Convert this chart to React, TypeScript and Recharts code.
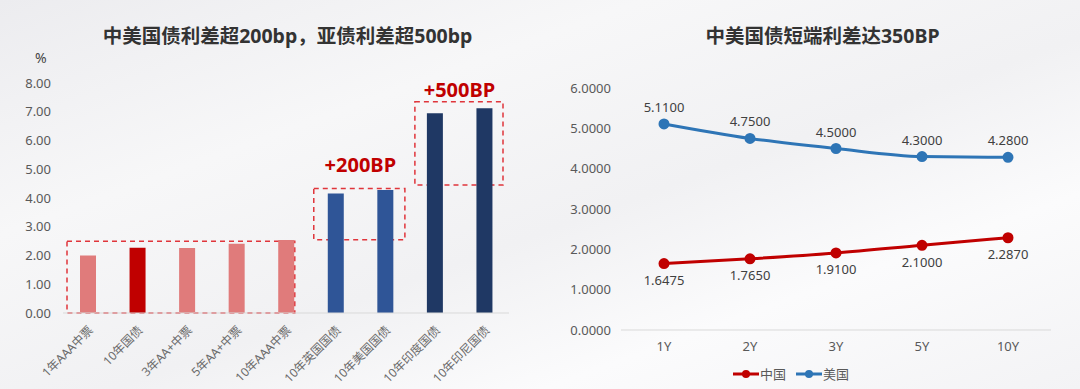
import {
  BarChart,
  Bar,
  Cell,
  LineChart,
  Line,
  XAxis,
  YAxis,
  ReferenceArea,
  LabelList,
  Legend,
} from "recharts";

const bondNames = [
  "1年AAA中票",
  "10年国债",
  "3年AA+中票",
  "5年AA+中票",
  "10年AAA中票",
  "10年英国国债",
  "10年美国国债",
  "10年印度国债",
  "10年印尼国债",
];
const bondYields = [2.0, 2.27, 2.26, 2.41, 2.54, 4.16, 4.28, 6.95, 7.12];
const barColors = [
  "#E07B7B",
  "#C00000",
  "#E07B7B",
  "#E07B7B",
  "#E07B7B",
  "#2F5597",
  "#2F5597",
  "#1F3864",
  "#1F3864",
];
const barTicks = [0, 1, 2, 3, 4, 5, 6, 7, 8];

const tenors = ["1Y", "2Y", "3Y", "5Y", "10Y"];
const chinaYields = [1.6475, 1.765, 1.91, 2.1, 2.287];
const usYields = [5.11, 4.75, 4.5, 4.3, 4.28];
const lineTicks = [0, 1, 2, 3, 4, 5, 6];

const barData = bondNames.map((name, i) => ({ name, value: bondYields[i] }));
const lineData = tenors.map((t, i) => ({ tenor: t, cn: chinaYields[i], us: usYields[i] }));

const FONT = "'Noto Sans', 'Noto Sans CJK SC', sans-serif";
const RED = "#C00000";
const BLUE = "#2E75B6";

const dashBox = (inL: number, inR: number) => (p: any) =>
  (
    <rect
      x={p.x + inL}
      y={p.y}
      width={p.width - inL - inR}
      height={p.height}
      fill="none"
      stroke="#E0353B"
      strokeWidth={1.5}
      strokeDasharray="5 4"
    />
  );

const RotTick = (props: any) => {
  const { x, y, payload } = props;
  return (
    <text
      x={x + 6}
      y={y + 10}
      textAnchor="end"
      fontSize={12}
      fill="#6b6b6b"
      fontFamily={FONT}
      transform={`rotate(-45, ${x + 6}, ${y + 10})`}
    >
      {payload.value}
    </text>
  );
};

const LegendContent = () => (
  <div
    style={{
      display: "flex",
      justifyContent: "center",
      gap: 10,
      fontSize: 13,
      color: "#595959",
      fontFamily: FONT,
      marginLeft: -38,
    }}
  >
    {[
      { name: "中国", color: RED },
      { name: "美国", color: BLUE },
    ].map((it) => (
      <span key={it.name} style={{ display: "flex", alignItems: "center" }}>
        <svg width={26} height={10}>
          <line x1={0} y1={5} x2={26} y2={5} stroke={it.color} strokeWidth={3} />
          <circle cx={13} cy={5} r={4} fill={it.color} />
        </svg>
        <span style={{ marginLeft: 1 }}>{it.name}</span>
      </span>
    ))}
  </div>
);

export default function App() {
  return (
    <div
      style={{
        position: "absolute",
        left: 0,
        top: 0,
        width: 1080,
        height: 389,
        overflow: "hidden",
        fontFamily: FONT,
        background:
          "linear-gradient(160deg, #ececef 0%, #f7f7f8 30%, #f1f1f3 55%, #fbfbfc 75%, #f3f3f5 100%)",
      }}
    >
      <div
        style={{
          position: "absolute",
          left: 0,
          width: 575,
          top: 20,
          textAlign: "center",
          fontSize: 19.5,
          fontWeight: "bold",
          color: "#333",
        }}
      >
        中美国债利差超200bp，亚债利差超500bp
      </div>
      <div style={{ position: "absolute", left: 35, top: 48, fontSize: 14, color: "#444" }}>%</div>
      <div
        style={{
          position: "absolute",
          left: 540,
          width: 565,
          top: 20,
          textAlign: "center",
          fontSize: 19.5,
          fontWeight: "bold",
          color: "#333",
        }}
      >
        中美国债短端利差达350BP
      </div>

      <div style={{ position: "absolute", left: 0, top: 0 }}>
        <BarChart
          width={540}
          height={389}
          data={barData}
          margin={{ top: 83, right: 31, bottom: 0, left: 0 }}
        >
          <XAxis
            dataKey="name"
            interval={0}
            height={76}
            tickLine={false}
            axisLine={{ stroke: "#d9d9d9" }}
            tick={<RotTick />}
          />
          <YAxis
            width={63}
            domain={[0, 8]}
            ticks={barTicks}
            tickFormatter={(v: number) => v.toFixed(2)}
            axisLine={false}
            tickLine={false}
            tickMargin={6}
            tick={{ fontSize: 13, fill: "#595959", fontFamily: FONT }}
          />
          <ReferenceArea
            x1="1年AAA中票"
            x2="10年AAA中票"
            y1={0}
            y2={2.5}
            shape={dashBox(4, 16)}
          />
          <ReferenceArea
            x1="10年英国国债"
            x2="10年美国国债"
            y1={2.55}
            y2={4.33}
            shape={dashBox(3, 5)}
            label={{
              value: "+200BP",
              position: "top",
              offset: 17,
              fill: RED,
              fontSize: 20,
              fontWeight: "bold",
              fontFamily: FONT,
            }}
          />
          <ReferenceArea
            x1="10年印度国债"
            x2="10年印尼国债"
            y1={4.45}
            y2={7.35}
            shape={dashBox(5, 6)}
            label={{
              value: "+500BP",
              position: "top",
              offset: 5,
              fill: RED,
              fontSize: 20,
              fontWeight: "bold",
              fontFamily: FONT,
            }}
          />
          <Bar dataKey="value" barSize={16} isAnimationActive={false}>
            {barData.map((d, i) => (
              <Cell key={d.name} fill={barColors[i]} />
            ))}
          </Bar>
        </BarChart>
      </div>

      <div style={{ position: "absolute", left: 540, top: 0 }}>
        <LineChart
          width={540}
          height={389}
          data={lineData}
          margin={{ top: 88, right: 29, bottom: 15, left: 0 }}
        >
          <XAxis
            dataKey="tenor"
            scale="band"
            tickLine={false}
            axisLine={{ stroke: "#d9d9d9" }}
            height={25}
            tickMargin={6}
            tick={{ fontSize: 13, fill: "#595959", fontFamily: FONT }}
          />
          <YAxis
            width={81}
            domain={[0, 6]}
            ticks={lineTicks}
            tickFormatter={(v: number) => v.toFixed(4)}
            axisLine={false}
            tickLine={false}
            tickMargin={4}
            tick={{ fontSize: 13, fill: "#595959", fontFamily: FONT }}
          />
          <Legend content={<LegendContent />} wrapperStyle={{ left: 0, width: 540, top: 364 }} />
          <Line
            type="monotone"
            dataKey="cn"
            name="中国"
            stroke={RED}
            strokeWidth={3}
            dot={{ r: 4, fill: RED, stroke: RED }}
            isAnimationActive={false}
          >
            <LabelList
              dataKey="cn"
              position="bottom"
              offset={12}
              formatter={(v: any) => Number(v).toFixed(4)}
              style={{ fontSize: 13, fill: "#404040", fontFamily: FONT }}
            />
          </Line>
          <Line
            type="monotone"
            dataKey="us"
            name="美国"
            stroke={BLUE}
            strokeWidth={3}
            dot={{ r: 4, fill: BLUE, stroke: BLUE }}
            isAnimationActive={false}
          >
            <LabelList
              dataKey="us"
              position="top"
              offset={12}
              formatter={(v: any) => Number(v).toFixed(4)}
              style={{ fontSize: 13, fill: "#404040", fontFamily: FONT }}
            />
          </Line>
        </LineChart>
      </div>
    </div>
  );
}
